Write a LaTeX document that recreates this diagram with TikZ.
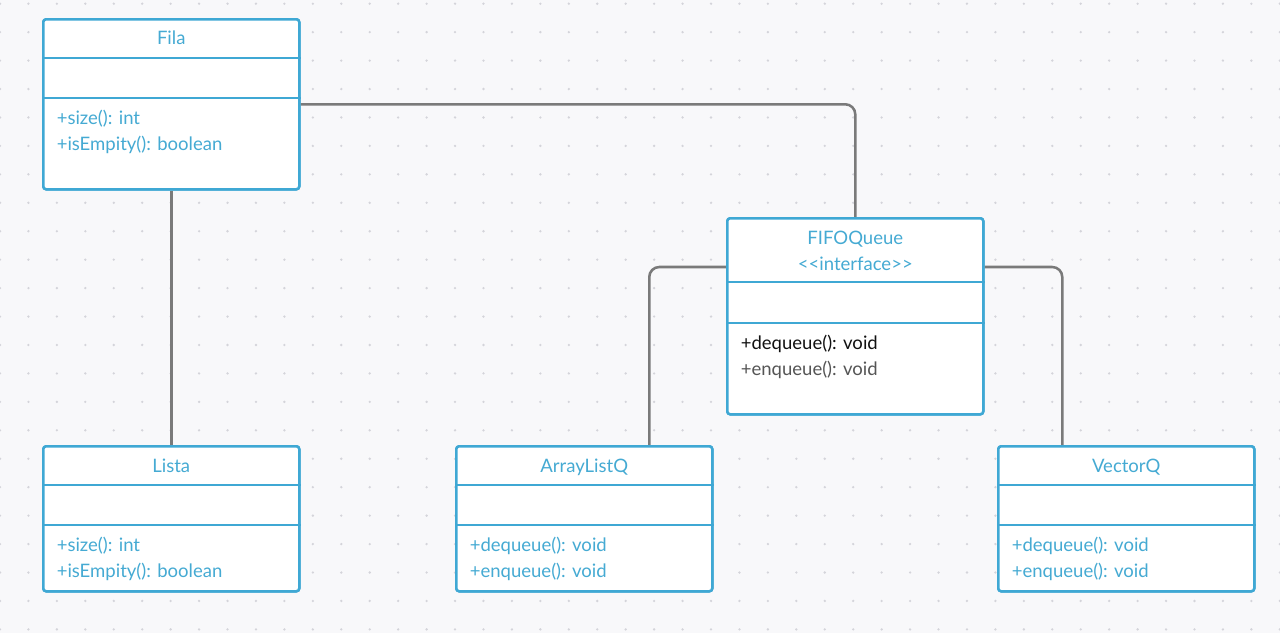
\documentclass[tikz,border=0pt]{standalone}
\usepackage{fontspec}
\setmainfont{Lato}
\usetikzlibrary{calc}
\definecolor{umlblue}{HTML}{3FA8D4}
\definecolor{umltext}{HTML}{45AAD3}
\definecolor{wirec}{HTML}{7A7A7A}
\definecolor{paper}{HTML}{F8F8FA}
\definecolor{dotc}{HTML}{D4D4DA}
\definecolor{opdark}{HTML}{111111}
\definecolor{opgray}{HTML}{555555}
\begin{document}
\begin{tikzpicture}[x=0.75pt,y=-0.75pt,
  classbox/.style={draw=umlblue, line width=1.9pt, fill=white, rounded corners=2.2pt,
    inner sep=0pt, anchor=north west, minimum width=256*0.75pt, minimum height=#1*0.75pt},
  divider/.style={draw=umlblue, line width=1.9pt},
  umlfont/.style={font=\fontsize{13.9pt}{16pt}\selectfont},
  classname/.style={umlfont, text=umltext, anchor=base, inner sep=0pt},
  member/.style={umlfont, text=umltext, anchor=base west, inner sep=0pt},
  wire/.style={draw=wirec, line width=1.9pt, rounded corners=7.5pt}]

% canvas with dotted grid
\fill[paper] (0,0) rectangle (1280,633);
\useasboundingbox (0,0) rectangle (1280,633);
\foreach \i in {0,...,45} {
  \foreach \j in {0,...,22} {
    \fill[dotc] ({28.44*\i},{3.7+28.44*\j}) circle (1.3);
  }
}

% class boxes
\node[classbox=170] (fila) at (42,18) {};
\node[classbox=145] (lista) at (42,445) {};
\node[classbox=145] (arraylistq) at (455,445) {};
\node[classbox=145] (vectorq) at (997,445) {};
\node[classbox=196] (fifo) at (726,217) {};

% connectors
\draw[wire] (fila.east) -| (fifo.north);
\draw[wire] (fila.south) -- (lista.north);
\draw[wire] ($(fifo.north west)+(0,50)$) -| ($(arraylistq.north)+(65,0)$);
\draw[wire] ($(fifo.north east)+(0,50)$) -| ($(vectorq.north)+(-64,0)$);

% redraw boxes above the connector ends
\node[classbox=170] at (42,18) {};
\node[classbox=145] at (42,445) {};
\node[classbox=145] at (455,445) {};
\node[classbox=145] at (997,445) {};
\node[classbox=196] at (726,217) {};

% compartment dividers
\foreach \b in {fila,lista,arraylistq,vectorq} {
  \draw[divider] ($(\b.north west)+(0,40)$) -- ($(\b.north east)+(0,40)$);
  \draw[divider] ($(\b.north west)+(0,80)$) -- ($(\b.north east)+(0,80)$);
}
\draw[divider] ($(fifo.north west)+(0,65)$) -- ($(fifo.north east)+(0,65)$);
\draw[divider] ($(fifo.north west)+(0,106)$) -- ($(fifo.north east)+(0,106)$);

% Fila
\node[classname] (filaname) at ($(fila.north)+(0,26.5)$) {Fila};
\node[member] (filaop1) at ($(fila.north west)+(14.5,106)$) {+size(): int};
\node[member] (filaop2) at ($(fila.north west)+(14.5,132)$) {+isEmpity(): boolean};

% Lista
\node[classname] (listaname) at ($(lista.north)+(0,27)$) {Lista};
\node[member] (listaop1) at ($(lista.north west)+(14.5,106.5)$) {+size(): int};
\node[member] (listaop2) at ($(lista.north west)+(14.5,132)$) {+isEmpity(): boolean};

% ArrayListQ
\node[classname] (arrayname) at ($(arraylistq.north)+(0,27)$) {ArrayListQ};
\node[member] (arrayop1) at ($(arraylistq.north west)+(14.5,106.5)$) {+dequeue(): void};
\node[member] (arrayop2) at ($(arraylistq.north west)+(14.5,132)$) {+enqueue(): void};

% VectorQ
\node[classname] (vectorname) at ($(vectorq.north)+(0,27)$) {VectorQ};
\node[member] (vectorop1) at ($(vectorq.north west)+(14.5,106.5)$) {+dequeue(): void};
\node[member] (vectorop2) at ($(vectorq.north west)+(14.5,132)$) {+enqueue(): void};

% FIFOQueue interface
\node[classname] (fifoname) at ($(fifo.north)+(0,27.3)$) {FIFOQueue};
\node[classname] (fifostereo) at ($(fifo.north)+(0,53)$) {<\kern0pt<interface>\kern0pt>};
\node[member, text=opdark] (fifoop1) at ($(fifo.north west)+(14.5,132.3)$) {+dequeue(): void};
\node[member, text=opgray] (fifoop2) at ($(fifo.north west)+(14.5,158)$) {+enqueue(): void};
\end{tikzpicture}
\end{document}
